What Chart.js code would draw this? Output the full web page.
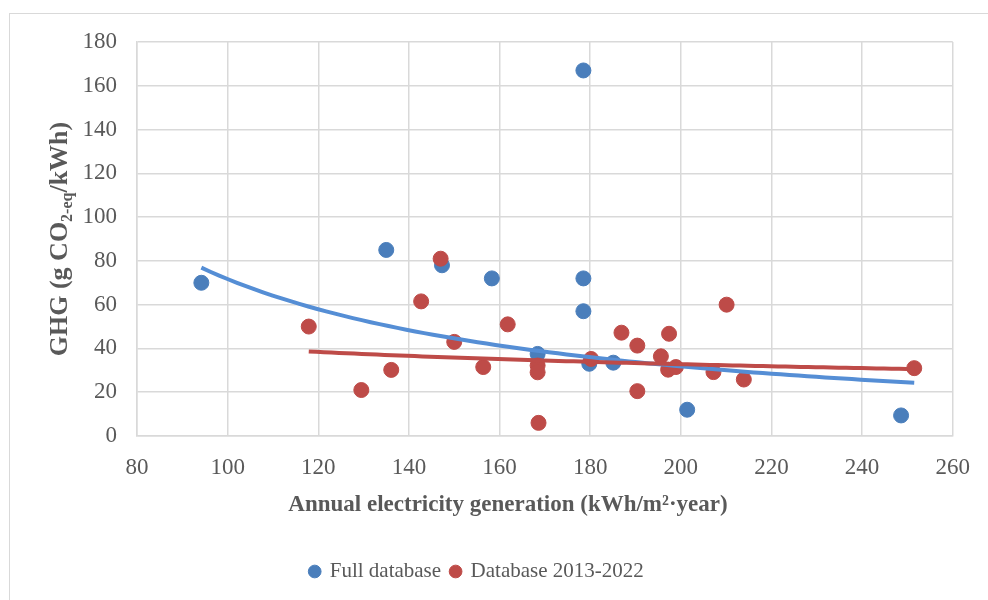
<!DOCTYPE html>
<html>
<head>
<meta charset="utf-8">
<script src="https://cdn.jsdelivr.net/npm/chart.js@4.4.1/dist/chart.umd.min.js"></script>
<style>
  html, body { margin: 0; padding: 0; background: #fff; overflow: hidden; }
  #wrap { position: relative; width: 988px; height: 600px; }
  #frame { position: absolute; left: 9px; top: 13px; width: 1000px; height: 700px;
           border: 1.5px solid #d9d9d9; pointer-events: none; }
</style>
</head>
<body>
<div id="wrap"><canvas id="chart"></canvas><div id="frame"></div></div>
<script>
// Full database (points only visible in blue)
const fullX = [94.2, 135.0, 147.3, 158.3, 178.5, 178.5, 178.5, 168.4, 179.8, 185.1, 201.4, 248.6];
const fullY = [70, 85, 78, 72, 167, 72, 57, 37.5, 33, 33.5, 12, 9.4];

// Database 2013-2022 (also part of the full database)
const recentX = [117.9, 129.5, 136.1, 142.7, 147.0, 150.0, 156.4, 161.8, 168.4, 168.4, 168.6,
                 180.2, 186.9, 190.4, 190.4, 195.6, 197.4, 197.2, 198.9, 207.2, 210.1, 213.9, 251.5];
const recentY = [50, 21, 30.2, 61.5, 81, 43, 31.5, 51, 32.2, 29.1, 6,
                 35.2, 47.2, 41.3, 20.5, 36.4, 46.7, 30.3, 31.5, 29.2, 60, 25.8, 31];

const xTicks = [80, 100, 120, 140, 160, 180, 200, 220, 240, 260];
const yTicks = [0, 20, 40, 60, 80, 100, 120, 140, 160, 180];
const seriesNames = ["Full database", "Database 2013-2022"];

const GREY = "#595959";
const BLUE = "#4A7EBB";
const RED = "#BE4B48";
const BLUE_TREND = "#558ED5";
const FONT = "Liberation Serif";

const toPoints = (xs, ys) => xs.map((x, i) => ({ x, y: ys[i] }));

// power trendline y = a * x^b, least squares on ln/ln like Excel
function powerTrend(xs, ys, steps) {
  const n = xs.length;
  let sx = 0, sy = 0, sxx = 0, sxy = 0;
  for (let i = 0; i < n; i++) {
    const lx = Math.log(xs[i]), ly = Math.log(ys[i]);
    sx += lx; sy += ly; sxx += lx * lx; sxy += lx * ly;
  }
  const b = (n * sxy - sx * sy) / (n * sxx - sx * sx);
  const a = Math.exp((sy - b * sx) / n);
  const lo = Math.min(...xs), hi = Math.max(...xs);
  const pts = [];
  for (let k = 0; k <= steps; k++) {
    const x = lo + (hi - lo) * k / steps;
    pts.push({ x, y: a * Math.pow(x, b) });
  }
  return pts;
}

const allX = fullX.concat(recentX);
const allY = fullY.concat(recentY);

const axisTitles = {
  id: "axisTitles",
  afterDraw(chart) {
    const ctx = chart.ctx;
    const area = chart.chartArea;
    ctx.save();
    ctx.fillStyle = GREY;
    ctx.textBaseline = "middle";

    // x title
    ctx.font = `bold 23px "${FONT}"`;
    ctx.textAlign = "center";
    ctx.fillText("Annual electricity generation (kWh/m\u00B2\u00B7year)", 508, 505);

    // y title with subscript
    const parts = [
      { t: "GHG (g CO", f: `bold 26px "${FONT}"`, dy: 0 },
      { t: "2-eq", f: `bold 16px "${FONT}"`, dy: 8 },
      { t: "/kWh)", f: `bold 26px "${FONT}"`, dy: 0 }
    ];
    let total = 0;
    parts.forEach(p => { ctx.font = p.f; p.w = ctx.measureText(p.t).width; total += p.w; });
    ctx.translate(60, (area.top + area.bottom) / 2);
    ctx.rotate(-Math.PI / 2);
    ctx.textAlign = "left";
    let x = -total / 2;
    parts.forEach(p => { ctx.font = p.f; ctx.fillText(p.t, x, p.dy); x += p.w; });
    ctx.restore();
  }
};

new Chart(document.getElementById("chart"), {
  type: "scatter",
  data: {
    datasets: [
      {
        label: seriesNames[0],
        data: toPoints(fullX, fullY),
        backgroundColor: BLUE,
        borderColor: BLUE,
        pointRadius: 7.5,
        order: 4
      },
      {
        label: seriesNames[1],
        data: toPoints(recentX, recentY),
        backgroundColor: RED,
        borderColor: RED,
        pointRadius: 7.5,
        order: 3
      },
      {
        label: "trend-full",
        type: "line",
        data: powerTrend(allX, allY, 80),
        borderColor: BLUE_TREND,
        borderWidth: 4,
        pointRadius: 0,
        fill: false,
        order: 2
      },
      {
        label: "trend-recent",
        type: "line",
        data: powerTrend(recentX, recentY, 80),
        borderColor: RED,
        borderWidth: 4,
        pointRadius: 0,
        fill: false,
        order: 1
      }
    ]
  },
  options: {
    responsive: true,
    maintainAspectRatio: false,
    animation: false,
    layout: { padding: { top: 42, right: 34, bottom: 8, left: 0 } },
    plugins: {
      tooltip: { enabled: false },
      legend: {
        position: "bottom",
        labels: {
          filter: item => seriesNames.includes(item.text),
          sort: (a, b) => a.datasetIndex - b.datasetIndex,
          usePointStyle: true,
          pointStyle: "circle",
          boxWidth: 9,
          boxHeight: 9,
          padding: 10,
          color: GREY,
          font: { family: FONT, size: 21 }
        }
      }
    },
    scales: {
      x: {
        type: "linear",
        min: xTicks[0],
        max: xTicks[xTicks.length - 1],
        afterBuildTicks: s => { s.ticks = xTicks.map(v => ({ value: v })); },
        afterFit: s => { s.height = 115; },
        grid: { color: "#d9d9d9", lineWidth: 1.5, drawTicks: false },
        border: { color: "#d9d9d9", width: 1.5 },
        ticks: { padding: 18, color: GREY, font: { family: FONT, size: 23 } }
      },
      y: {
        type: "linear",
        min: yTicks[0],
        max: yTicks[yTicks.length - 1],
        afterBuildTicks: s => { s.ticks = yTicks.map(v => ({ value: v })); },
        afterFit: s => { s.width = 137; },
        grid: { color: "#d9d9d9", lineWidth: 1.5, drawTicks: false },
        border: { color: "#d9d9d9", width: 1.5 },
        ticks: { padding: 20, color: GREY, font: { family: FONT, size: 23 } }
      }
    }
  },
  plugins: [axisTitles]
});
</script>
</body>
</html>
